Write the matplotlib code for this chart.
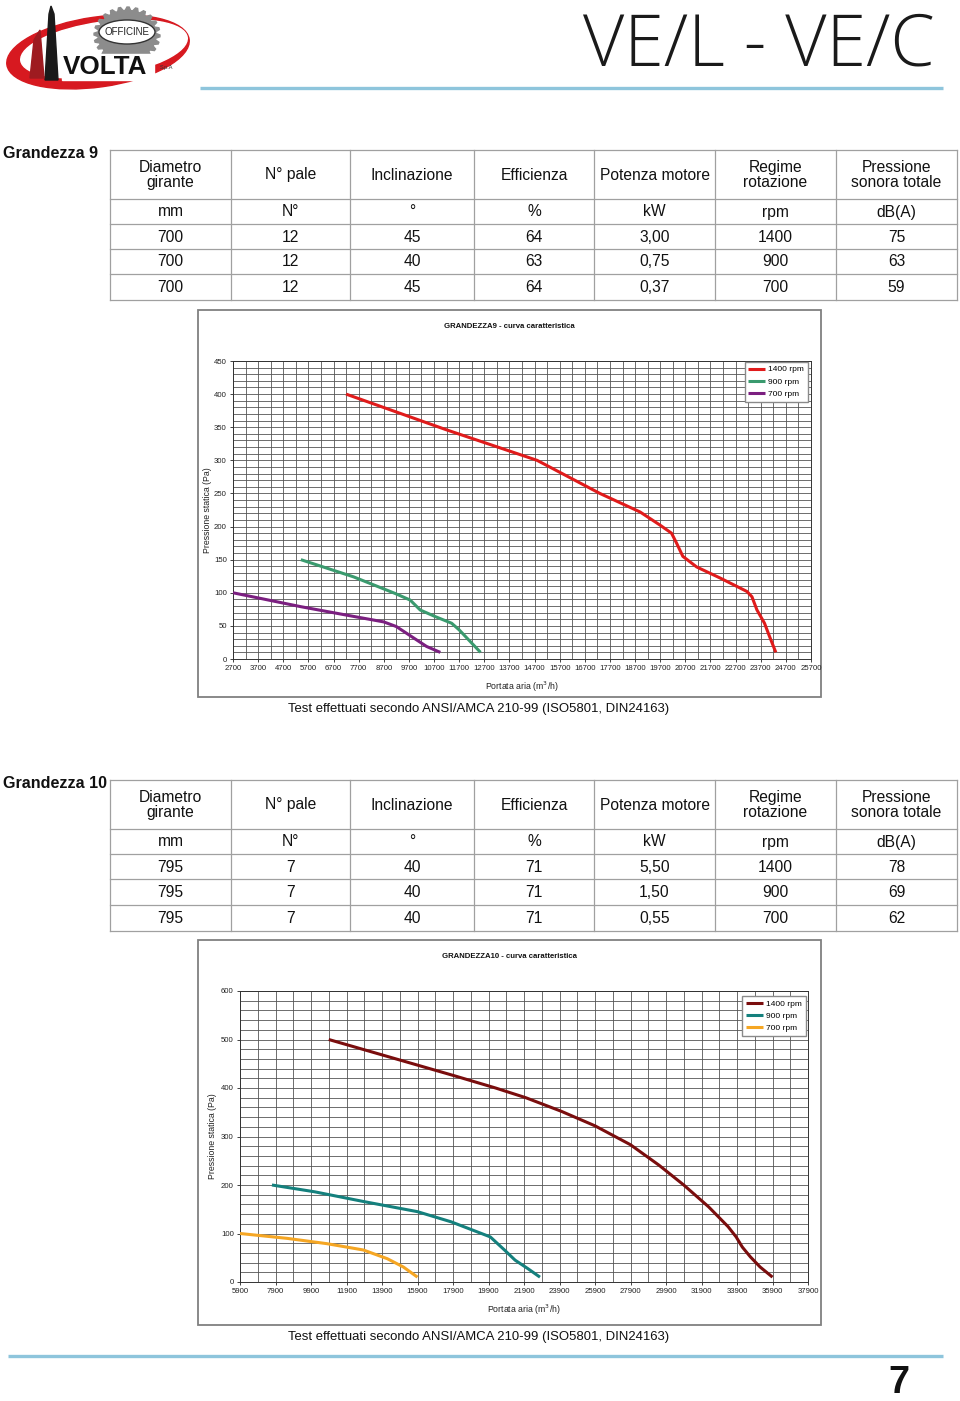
import numpy as np
import matplotlib
matplotlib.use('Agg')
import matplotlib.pyplot as plt
from matplotlib import font_manager
from matplotlib.patches import Rectangle, Ellipse, Polygon
from matplotlib.ticker import FixedLocator

W, H = 960, 1401

# --- table contents ---
header = ["Diametro\ngirante", "N° pale", "Inclinazione", "Efficienza",
          "Potenza motore", "Regime\nrotazione", "Pressione\nsonora totale"]
units = ["mm", "N°", "°", "%", "kW", "rpm", "dB(A)"]
g9_rows = [["700", "12", "45", "64", "3,00", "1400", "75"],
           ["700", "12", "40", "63", "0,75", "900", "63"],
           ["700", "12", "45", "64", "0,37", "700", "59"]]
g10_rows = [["795", "7", "40", "71", "5,50", "1400", "78"],
            ["795", "7", "40", "71", "1,50", "900", "69"],
            ["795", "7", "40", "71", "0,55", "700", "62"]]

# --- curve data, Grandezza 9 (portata m3/h, pressione Pa) ---
g9_1400_q = [7200, 11200, 14800, 17300, 18900, 19700, 20150, 20350, 20600,
             21150, 22100, 23150, 23350, 23550, 23850, 24050, 24300]
g9_1400_p = [400, 346, 300, 250, 222, 202, 190, 175, 155,
             139, 122, 102, 94, 74, 54, 34, 10]
g9_900_q = [5400, 7500, 9150, 9750, 10150, 10750, 11400, 11700, 12200, 12550]
g9_900_p = [150, 124, 99, 89, 74, 64, 54, 44, 24, 10]
g9_700_q = [2700, 5400, 7400, 8700, 9200, 9800, 10400, 10950]
g9_700_p = [100, 79, 65, 56, 49, 34, 19, 10]

# --- curve data, Grandezza 10 ---
g10_1400_q = [10900, 18000, 20300, 22000, 24000, 25900, 27900, 29500, 30900,
              32300, 33400, 33850, 34200, 34650, 35200, 35900]
g10_1400_p = [500, 425, 400, 380, 352, 322, 283, 241, 200,
              155, 114, 93, 72, 52, 31, 10]
g10_900_q = [7700, 10100, 12850, 15900, 17800, 20000, 20800, 21400, 22100, 22800]
g10_900_p = [200, 186, 166, 145, 124, 93, 66, 45, 28, 10]
g10_700_q = [5900, 8550, 10800, 12850, 14200, 15100, 15900]
g10_700_p = [100, 90, 79, 66, 48, 31, 10]

labels = ["1400 rpm", "900 rpm", "700 rpm"]

names = {f.name for f in font_manager.fontManager.ttflist}
NARROW = 'Liberation Sans Narrow' if 'Liberation Sans Narrow' in names else 'Liberation Sans'
SC = 1.0 if NARROW == 'Liberation Sans Narrow' else 0.85
plt.rcParams['font.family'] = [NARROW, 'DejaVu Sans']

fig = plt.figure(figsize=(W / 100, H / 100), dpi=100)
pg = fig.add_axes([0, 0, 1, 1])
pg.set_xlim(0, W)
pg.set_ylim(H, 0)
pg.axis('off')


def px_axes(l, t, r, b):
    return fig.add_axes([l / W, 1 - b / H, (r - l) / W, (b - t) / H])


# logo
pg.add_patch(Ellipse((98, 52), 184, 70, angle=-8, color='#d71920', zorder=1))
pg.add_patch(Ellipse((104, 49), 168, 54, angle=-8, color='white', zorder=2))
n = 24
ang = np.linspace(0, 2 * np.pi, 4 * n, endpoint=False)
rad = np.where((np.arange(4 * n) // 2) % 2 == 0, 1.0, 0.88)
gear = np.column_stack([127 + 33 * rad * np.cos(ang), 35 + 28 * rad * np.sin(ang)])
pg.add_patch(Polygon(gear, closed=True, color='#8c8c8c', zorder=3))
pg.add_patch(Ellipse((127, 32), 56, 24, fc='white', ec='#333333', lw=1, zorder=4))
pg.text(127, 32, "OFFICINE", ha='center', va='center', fontsize=7,
        color='#222222', zorder=5)
pg.add_patch(Polygon([(45, 80), (49, 14), (51, 6), (54, 14), (58, 80)],
                     closed=True, color='#1a1a1a', zorder=5))
pg.add_patch(Polygon([(30, 78), (34, 40), (40, 30), (44, 78)],
                     closed=True, color='#9e1b20', zorder=5))
pg.add_patch(Rectangle((62, 54), 92, 26, color='white', zorder=4))
pg.text(105, 67, "VOLTA", ha='center', va='center', fontsize=22 * SC,
        weight='bold', color='#111111', zorder=6)
pg.text(166, 68, "S.p.A", ha='center', va='center', fontsize=4, color='#333333', zorder=6)

# page title and rules
pg.text(935, 47, "VE/L - VE/C", ha='right', va='center', fontsize=51.5, weight='light',
        family=['Open Sans', 'DejaVu Sans'], color='#1a1a1a')
pg.plot([200, 943], [88, 88], color='#8ec5dc', lw=2.4, solid_capstyle='butt')
pg.plot([8, 943], [1356, 1356], color='#8ec5dc', lw=2.4, solid_capstyle='butt')
pg.text(899, 1383, "7", ha='center', va='center', fontsize=32 * SC, weight='bold',
        color='#111111')

col_x = [110, 231, 350, 474, 594, 715, 836, 957]


def draw_table(title, y0, rows_y, data):
    pg.text(3, y0 + 4, title, ha='left', va='center', fontsize=13.7 * SC,
            weight='bold', color='#111111')
    for y in rows_y:
        pg.plot([col_x[0], col_x[-1]], [y, y], color='#a0a0a0', lw=0.9)
    for x in col_x:
        pg.plot([x, x], [rows_y[0], rows_y[-1]], color='#a0a0a0', lw=0.9)
    allrows = [header, units] + data
    for i, row in enumerate(allrows):
        yc = (rows_y[i] + rows_y[i + 1]) / 2 + 0.5
        for j, txt in enumerate(row):
            xc = (col_x[j] + col_x[j + 1]) / 2
            pg.text(xc, yc, txt, ha='center', va='center',
                    fontsize=13.2 * SC, color='#111111', linespacing=1.05)


draw_table("Grandezza 9", 150, [150, 199, 224, 249, 274, 300], g9_rows)
draw_table("Grandezza 10", 780, [780, 829, 854, 879, 905, 931], g10_rows)


def draw_chart(box, plot, title, series, colors, xt, yt, yminor, ylpad, leg_anchor):
    l, t, r, b = box
    pg.add_patch(Rectangle((l, t), r - l, b - t, fill=False, ec='#808080', lw=1.3))
    pg.text((l + r) / 2, t + 16, title, ha='center', va='center',
            fontsize=5.6, weight='bold', color='#111111')
    ax = px_axes(*plot)
    for (q, p), c, lab in zip(series, colors, labels):
        ax.plot(q, p, color=c, lw=2.2, label=lab, solid_joinstyle='round',
                solid_capstyle='butt', zorder=3)
    ax.set_xlim(xt[0], xt[-1])
    ax.set_ylim(yt[0], yt[-1])
    ax.set_xticks(xt)
    ax.set_xticklabels([str(v) for v in xt])
    ax.set_yticks(yt)
    ax.set_yticklabels([str(v) for v in yt])
    # one vertical grid line halfway between labelled ticks
    mids = [(a + c) / 2 for a, c in zip(xt[:-1], xt[1:])]
    ax.xaxis.set_minor_locator(FixedLocator(mids))
    ax.yaxis.set_minor_locator(FixedLocator(list(range(yt[0], yt[-1], yminor))))
    ax.grid(which='both', color='#555555', lw=0.6)
    ax.set_axisbelow(True)
    ax.tick_params(which='major', labelsize=5.6, length=2.5, width=0.6,
                   pad=2, colors='#222222')
    ax.tick_params(which='minor', length=0)
    for s in ax.spines.values():
        s.set_color('#333333')
        s.set_linewidth(0.7)
    ax.set_xlabel("Portata aria (m$^3$/h)", fontsize=6.3, labelpad=5, color='#222222')
    ax.set_ylabel("Pressione statica (Pa)", fontsize=6.3, labelpad=ylpad, color='#222222')
    ax.legend(loc='upper right', bbox_to_anchor=leg_anchor, fontsize=6,
              frameon=True, fancybox=False, edgecolor='#8a8a8a', framealpha=1,
              handlelength=2.0, handletextpad=0.4, borderpad=0.45,
              labelspacing=0.55, borderaxespad=0)
    pg.text(479, b + 12, "Test effettuati secondo ANSI/AMCA 210-99 (ISO5801, DIN24163)",
            ha='center', va='center', fontsize=11.1 * SC, color='#111111')
    return ax


draw_chart((198, 310, 821, 697), (233, 361, 811, 659),
           "GRANDEZZA9 - curva caratteristica",
           [(g9_1400_q, g9_1400_p), (g9_900_q, g9_900_p), (g9_700_q, g9_700_p)],
           ['#e01b1b', '#3a9a6e', '#7b1f80'],
           list(range(2700, 25701, 1000)), list(range(0, 451, 50)), 10,
           1.5, (0.995, 0.997))

draw_chart((198, 940, 821, 1325), (240, 991, 808, 1282),
           "GRANDEZZA10 - curva caratteristica",
           [(g10_1400_q, g10_1400_p), (g10_900_q, g10_900_p), (g10_700_q, g10_700_p)],
           ['#7a0d0d', '#14807d', '#f5a623'],
           list(range(5900, 37901, 2000)), list(range(0, 601, 100)), 20,
           2.5, (0.996, 0.983))

fig.savefig("out.png", dpi=100)
